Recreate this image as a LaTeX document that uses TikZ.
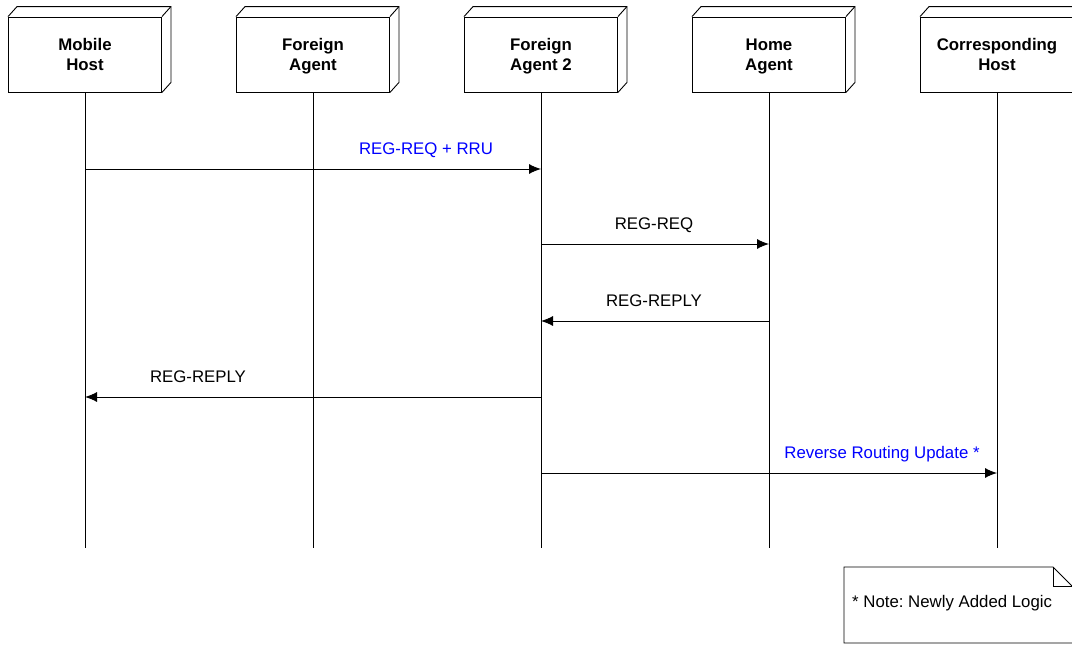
\documentclass[tikz,border=0pt]{standalone}
\usepackage{fontspec}
\setmainfont{Liberation Sans}
\usetikzlibrary{arrows.meta,calc}
\definecolor{newlogic}{RGB}{0,0,255}
\frenchspacing
\begin{document}
\begin{tikzpicture}[x=1pt,y=-1pt,
  every node/.style={font=\fontsize{16.8}{20}\selectfont},
  actor/.style={draw, line width=0.9pt, minimum width=153pt, minimum height=75pt, inner sep=0pt},
  actorname/.style={inner sep=0pt, align=center, font=\fontsize{16.8}{20}\selectfont\bfseries},
  depth/.style={line width=0.9pt},
  lifeline/.style={line width=0.9pt},
  msg/.style={line width=0.9pt, -{Latex[length=12pt,width=10pt]}},
  msglabel/.style={anchor=base},
  added/.style={text=newlogic},
  notebox/.style={line width=0.9pt}]
\useasboundingbox (0,0) rectangle (1072,645);
\clip (0,0) rectangle (1072,645);

% participants: box, then its two-line name (struts keep the baselines fixed)
\foreach \n/\x/\t in {mh/85/{Mobile\\Host}, fa/313/{Foreign\\Agent},
                      fa2/541/{Foreign\\Agent 2}, ha/769/{Home\\Agent},
                      ch/997/{Corresponding\\Host}}{
  \node[actor] (\n) at (\x,54.5) {};
  \node[actorname] (\n-name) at (\x,56.7) {\strut\t\strut};
  % 3D depth of the box
  \draw[depth] (\n.north west) -- ++(9,-10) -- ($(\n.north east)+(9,-10)$)
    -- ($(\n.south east)+(9,-10)$) -- (\n.south east);
  \draw[depth] (\n.north east) -- ++(9,-10);
  % lifeline
  \coordinate (\n-end) at (\x,548);
  \draw[lifeline] (\n) -- (\n-end);
}

% message end points on the lifelines
\coordinate (mh-1)  at (85,169);
\coordinate (fa2-1) at (541,169);
\coordinate (fa2-2) at (541,244);
\coordinate (ha-2)  at (769,244);
\coordinate (ha-3)  at (769,321);
\coordinate (fa2-3) at (541,321);
\coordinate (fa2-4) at (541,397);
\coordinate (mh-4)  at (85,397);
\coordinate (fa2-5) at (541,473);
\coordinate (ch-5)  at (997,473);

% messages
\draw[msg] (mh-1) -- (fa2-1);
\draw[msg] (fa2-2) -- (ha-2);
\draw[msg] (ha-3) -- (fa2-3);
\draw[msg] (fa2-4) -- (mh-4);
\draw[msg] (fa2-5) -- (ch-5);

% message labels
\node[msglabel, added] (m1) at (426,154) {REG-REQ + RRU};
\node[msglabel] (m2) at (654,229) {REG-REQ};
\node[msglabel] (m3) at (654,306) {REG-REPLY};
\node[msglabel] (m4) at (198,382) {REG-REPLY};
\node[msglabel, added] (m5) at (882,458) {Reverse Routing Update *};

% note with folded corner
\draw[notebox] (844,567) -- (1053,567) -- (1073,587) -- (1073,643) -- (844,643) -- cycle;
\draw[notebox] (1053,567) -- (1053,586) -- (1073,586);
\node[anchor=base west, inner sep=0pt] (note) at (852,607) {* Note: Newly Added Logic};
\end{tikzpicture}
\end{document}
